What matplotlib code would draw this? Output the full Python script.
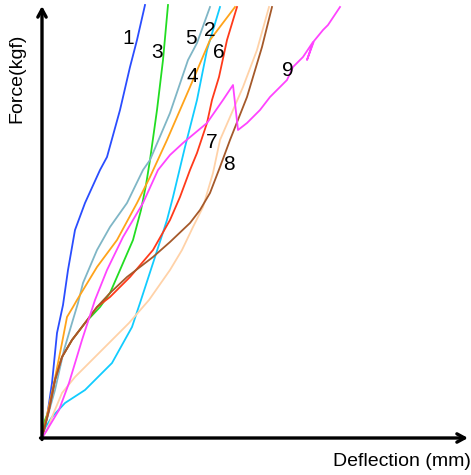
import matplotlib
matplotlib.use('Agg')
import matplotlib.pyplot as plt

# deflection / force values (arbitrary units, origin at axes corner)
defl_1 = [0, 5, 10, 15, 21, 26, 33, 43, 58, 65, 78, 88, 95, 103]
force_1 = [0, 21, 55, 105, 133, 168, 208, 235, 268, 281, 328, 371, 398, 433]

defl_3 = [0, 3, 7, 13, 20, 30, 43, 58, 68, 78, 91, 99, 104, 108, 115, 121, 126]
force_3 = [0, 18, 28, 58, 81, 98, 115, 131, 145, 168, 198, 228, 253, 278, 328, 378, 433]

defl_5 = [0, 6, 13, 22, 30, 36, 41, 55, 68, 85, 101, 108, 128, 146, 155, 168]
force_5 = [0, 23, 48, 88, 115, 135, 155, 188, 211, 235, 268, 278, 325, 378, 395, 431]

defl_2 = [0, 3, 10, 23, 43, 70, 90, 98, 113, 125, 131, 143, 155, 165, 178]
force_2 = [0, 10, 21, 35, 48, 75, 111, 135, 181, 218, 241, 291, 338, 388, 431]

defl_4 = [0, 5, 12, 20, 25, 31, 35, 55, 75, 95, 108, 125, 148, 168, 193]
force_4 = [0, 23, 55, 95, 121, 131, 138, 171, 198, 235, 261, 298, 351, 398, 431]

defl_6 = [0, 7, 13, 20, 30, 43, 55, 68, 88, 111, 128, 138, 148, 155, 165, 170, 177, 185, 195]
force_6 = [0, 28, 58, 81, 98, 115, 131, 141, 161, 188, 218, 241, 268, 285, 315, 338, 361, 398, 431]

defl_7 = [0, 5, 10, 20, 33, 60, 87, 107, 128, 140, 151, 161, 171, 178, 188, 201, 215, 227]
force_7 = [0, 8, 21, 45, 61, 88, 115, 138, 168, 188, 211, 231, 265, 298, 321, 351, 388, 431]

defl_8 = [0, 7, 13, 20, 30, 43, 55, 68, 85, 111, 128, 148, 158, 168, 178, 188, 205, 220, 230]
force_8 = [0, 28, 58, 81, 98, 115, 131, 145, 161, 181, 196, 215, 228, 245, 271, 298, 341, 391, 431]

defl_9 = [0, 5, 17, 27, 40, 53, 65, 81, 101, 116, 128, 141, 165, 181, 191, 196, 205, 218,
          228, 235, 245, 251, 261, 271, 265, 272, 281, 286, 298]
force_9 = [0, 8, 28, 55, 98, 138, 168, 201, 235, 268, 283, 295, 315, 338, 353, 308, 315, 328,
           341, 348, 358, 371, 381, 396, 378, 397, 408, 413, 431]

curves = [
    ('1', defl_1, force_1, '#2a4dff'),
    ('3', defl_3, force_3, '#22dd22'),
    ('5', defl_5, force_5, '#7fb6c6'),
    ('2', defl_2, force_2, '#11ccff'),
    ('4', defl_4, force_4, '#ffa31a'),
    ('6', defl_6, force_6, '#ff3a1a'),
    ('7', defl_7, force_7, '#ffd2a8'),
    ('8', defl_8, force_8, '#a5592a'),
    ('9', defl_9, force_9, '#ff44ff'),
]

label_x = [86, 115, 149, 168, 177, 150, 170, 187, 246]
label_y = [400, 385, 400, 408, 385, 361, 296, 273, 368]
label_txt = ['1', '3', '5', '2', '6', '4', '7', '8', '9']

fig = plt.figure(figsize=(4.71, 4.75), dpi=100)
ax = fig.add_axes([0, 0, 1, 1])
ax.set_xlim(-42, 429)
ax.set_ylim(-37, 438)
ax.axis('off')

for name, x, y, c in curves:
    ax.plot(x, y, color=c, lw=1.3, solid_joinstyle='round')

for tx, ty, t in zip(label_x, label_y, label_txt):
    ax.text(tx, ty, t, fontsize=15, family='Liberation Sans', ha='center', va='center')

arrow = dict(arrowstyle='->,head_length=0.55,head_width=0.3', lw=2.4, color='black',
             shrinkA=0, shrinkB=0)
ax.annotate('', xy=(0, 432), xytext=(0, -1.5), arrowprops=arrow)
ax.annotate('', xy=(426, 0), xytext=(-1.5, 0), arrowprops=arrow)

ax.text(-25, 360, 'Force(kgf)', rotation=90, fontsize=14, family='Liberation Sans',
        ha='center', va='center')
ax.text(360, -24, 'Deflection (mm)', fontsize=14, family='Liberation Sans',
        ha='center', va='center')

plt.savefig('out.png', dpi=100)
